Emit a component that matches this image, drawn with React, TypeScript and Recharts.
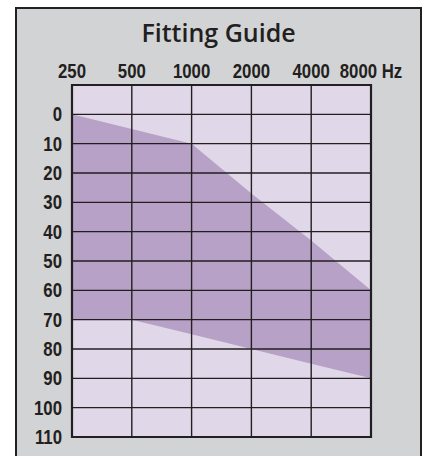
import React from 'react';
import {
  ComposedChart,
  Area,
  XAxis,
  YAxis,
  ReferenceLine,
  ReferenceArea,
} from 'recharts';

const frequencies = ['250', '500', '1000', '2000', '4000', '8000'];
const freqLabels = ['250', '500', '1000', '2000', '4000', '8000 Hz'];
const upperLevels = [0, 5, 10, 27, 43, 60];
const lowerLevels = [70, 70, 75, 80, 85, 90];
const levelTicks = [0, 10, 20, 30, 40, 50, 60, 70, 80, 90, 100, 110];
const gridLevels = [0, 10, 20, 30, 40, 50, 60, 70, 80, 90, 100];

const data = frequencies.map((f, i) => ({
  freq: f,
  range: [upperLevels[i], lowerLevels[i]],
}));

const ink = '#231f20';

// narrow bold label: Liberation Sans squeezed, stands in for a condensed face
const NarrowTick = (props: any) => {
  const { x, y, payload, textAnchor, dy, label } = props;
  const text = label ? label(payload.value) : String(payload.value);
  return (
    <g transform={`translate(${x},${y}) scale(0.84,1)`}>
      <text
        x={0}
        y={0}
        dy={dy}
        textAnchor={textAnchor}
        fontFamily='"Liberation Sans", Arial, sans-serif'
        fontWeight={700}
        fontSize={20}
        fill={ink}
      >
        {text}
      </text>
    </g>
  );
};

const App: React.FC = () => {
  return (
    <div
      style={{
        position: 'absolute',
        left: 0,
        top: 0,
        width: 424,
        height: 456,
        overflow: 'hidden',
        background: '#ffffff',
      }}
    >
      <div
        style={{
          position: 'absolute',
          left: 15,
          top: 7,
          width: 407,
          height: 470,
          boxSizing: 'border-box',
          border: `2px solid ${ink}`,
          background: '#d1d3d4',
        }}
      />
      <div
        style={{
          position: 'absolute',
          left: 15,
          width: 407,
          top: 15,
          textAlign: 'center',
          fontFamily: '"Open Sans", sans-serif',
          fontWeight: 600,
          fontSize: 25,
          lineHeight: 'normal',
          color: ink,
        }}
      >
        Fitting Guide
      </div>
      <div style={{ position: 'absolute', left: 0, top: 0 }}>
        <ComposedChart
          width={424}
          height={456}
          data={data}
          margin={{ top: 55, right: 53, bottom: 19, left: 12 }}
        >
          <XAxis
            dataKey="freq"
            orientation="top"
            height={30}
            axisLine={false}
            tickLine={false}
            tickSize={0}
            tickMargin={7}
            interval={0}
            tick={
              <NarrowTick
                dy={0}
                label={(v: string) => freqLabels[frequencies.indexOf(v)]}
              />
            }
          />
          <YAxis
            reversed
            type="number"
            domain={[-10, 110]}
            ticks={levelTicks}
            width={60}
            axisLine={false}
            tickLine={false}
            tickSize={0}
            tickMargin={10}
            interval={0}
            tick={<NarrowTick dy={7} />}
          />
          <ReferenceArea
            x1={frequencies[0]}
            x2={frequencies[frequencies.length - 1]}
            y1={-10}
            y2={110}
            fill="#e0d8e8"
            fillOpacity={1}
            stroke="none"
          />
          <Area
            dataKey="range"
            type="linear"
            stroke="none"
            fill="#b7a1c7"
            fillOpacity={1}
            isAnimationActive={false}
          />
          {gridLevels.map((v) => (
            <ReferenceLine key={`h-${v}`} y={v} stroke={ink} strokeWidth={1.4} />
          ))}
          {frequencies.slice(1, -1).map((f) => (
            <ReferenceLine key={`v-${f}`} x={f} stroke={ink} strokeWidth={1.4} />
          ))}
          <ReferenceArea
            x1={frequencies[0]}
            x2={frequencies[frequencies.length - 1]}
            y1={-10}
            y2={110}
            fill="none"
            stroke={ink}
            strokeWidth={2.2}
          />
        </ComposedChart>
      </div>
    </div>
  );
};

export default App;
